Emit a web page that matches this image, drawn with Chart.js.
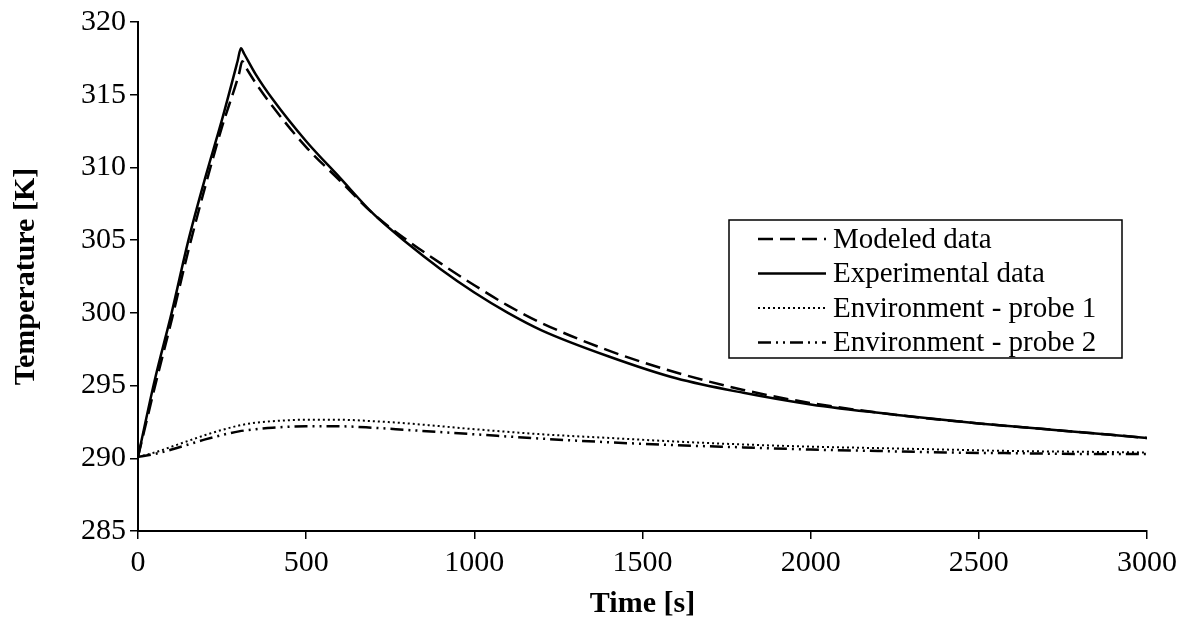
<!DOCTYPE html>
<html>
<head>
<meta charset="utf-8">
<script src="https://cdn.jsdelivr.net/npm/chart.js@4"></script>
<style>
  html, body { margin: 0; padding: 0; background: #fff; }
  #wrap { width: 1185px; height: 628px; position: relative; }
</style>
</head>
<body>
<div id="wrap"><canvas id="chart" width="1185" height="628"></canvas></div>
<script>
// time axis (s) for each series
const tExp = [0, 50, 100, 150, 200, 250, 296, 306, 316, 350, 400, 500, 600, 700, 800, 900, 1000, 1100, 1200, 1400, 1600, 1800, 2000, 2250, 2500, 2750, 3000];
const tMod = [0, 50, 100, 150, 200, 250, 300, 310, 320, 350, 400, 500, 600, 700, 800, 900, 1000, 1100, 1200, 1400, 1600, 1800, 2000, 2250, 2500, 2750, 3000];
const tEnv = [0, 50, 100, 150, 200, 250, 300, 350, 400, 500, 600, 700, 800, 1000, 1200, 1400, 1600, 1800, 2000, 2200, 2400, 2600, 2800, 3000];

// temperatures (K)
const modeled = [290.1, 294.9, 299.5, 304.3, 308.7, 312.8, 316.4, 317.3, 316.9, 315.8, 314.2, 311.4, 309.1, 306.8, 305.0, 303.4, 301.9, 300.5, 299.3, 297.4, 295.9, 294.7, 293.8, 293.0, 292.4, 291.9, 291.4];
const experimental = [290.1, 295.4, 300.0, 305.0, 309.3, 313.3, 317.3, 318.2, 317.8, 316.4, 314.7, 311.8, 309.3, 306.8, 304.8, 303.0, 301.4, 300.0, 298.8, 297.0, 295.5, 294.5, 293.7, 293.0, 292.4, 291.9, 291.4];
const probe1 = [290.1, 290.4, 290.8, 291.2, 291.6, 291.95, 292.25, 292.45, 292.55, 292.65, 292.65, 292.55, 292.4, 292.0, 291.65, 291.4, 291.15, 290.95, 290.8, 290.7, 290.6, 290.5, 290.45, 290.4];
const probe2 = [290.1, 290.3, 290.6, 290.95, 291.3, 291.6, 291.85, 292.0, 292.1, 292.2, 292.2, 292.1, 291.95, 291.65, 291.35, 291.1, 290.9, 290.75, 290.6, 290.5, 290.4, 290.35, 290.3, 290.3];

const xTicks = [0, 500, 1000, 1500, 2000, 2500, 3000];
const yTicks = [285, 290, 295, 300, 305, 310, 315, 320];

const FONT = 'Liberation Serif, "Times New Roman", serif';

function pts(xs, ys) {
    return xs.map((x, i) => ({ x: x, y: ys[i] }));
}

// legend drawn inside the plot area, with a box like the original
const boxLegend = {
    id: 'boxLegend',
    afterDraw(chart) {
        const ctx = chart.ctx;
        const left = 729, top = 220, right = 1122, bottom = 358;
        ctx.save();
        ctx.fillStyle = '#fff';
        ctx.fillRect(left, top, right - left, bottom - top);
        ctx.strokeStyle = '#000';
        ctx.lineWidth = 1.5;
        ctx.strokeRect(left, top, right - left, bottom - top);
        ctx.font = '29px ' + FONT;
        ctx.textBaseline = 'middle';
        ctx.fillStyle = '#000';
        chart.data.datasets.forEach((ds, i) => {
            const y = 239 + i * 34.5;
            ctx.beginPath();
            ctx.lineWidth = ds.borderWidth;
            ctx.setLineDash(ds.borderDash || []);
            ctx.moveTo(758, y);
            ctx.lineTo(826, y);
            ctx.stroke();
            ctx.setLineDash([]);
            ctx.fillText(ds.label, 833, y + 1);
        });
        ctx.restore();
    }
};

new Chart(document.getElementById('chart').getContext('2d'), {
    type: 'line',
    data: {
        datasets: [{
            label: 'Modeled data',
            data: pts(tMod, modeled),
            borderColor: '#000',
            borderWidth: 2.5,
            borderDash: [15, 7]
        }, {
            label: 'Experimental data',
            data: pts(tExp, experimental),
            borderColor: '#000',
            borderWidth: 2.5
        }, {
            label: 'Environment - probe 1',
            data: pts(tEnv, probe1),
            borderColor: '#000',
            borderWidth: 2,
            borderDash: [2, 3]
        }, {
            label: 'Environment - probe 2',
            data: pts(tEnv, probe2),
            borderColor: '#000',
            borderWidth: 2.5,
            borderDash: [13, 5, 2, 5, 2, 5]
        }]
    },
    options: {
        responsive: false,
        animation: false,
        elements: { point: { radius: 0 }, line: { cubicInterpolationMode: 'monotone' } },
        layout: { padding: { left: 8, top: 20, right: 38, bottom: 6 } },
        plugins: {
            legend: { display: false },
            tooltip: { enabled: false }
        },
        scales: {
            x: {
                type: 'linear',
                min: 0,
                max: 3000,
                afterBuildTicks: s => { s.ticks = xTicks.map(v => ({ value: v })); },
                afterFit: s => { s.height = 628 - 531 - 6; },
                grid: { drawOnChartArea: false, drawTicks: true, tickLength: 8, color: '#000', lineWidth: 1.5 },
                border: { color: '#000', width: 2 },
                ticks: { color: '#000', font: { family: FONT, size: 30 }, padding: 6, maxRotation: 0, callback: v => String(v) },
                title: { display: true, text: 'Time [s]', color: '#000', font: { family: FONT, size: 30, weight: 'bold' }, padding: { top: 0, bottom: 0 } }
            },
            y: {
                min: 285,
                max: 320,
                afterBuildTicks: s => { s.ticks = yTicks.map(v => ({ value: v })); },
                afterFit: s => { s.width = 138 - 8; },
                grid: { drawOnChartArea: false, drawTicks: true, tickLength: 8, color: '#000', lineWidth: 1.5 },
                border: { color: '#000', width: 2 },
                ticks: { color: '#000', font: { family: FONT, size: 30 }, padding: 4, callback: v => String(v) },
                title: { display: true, text: 'Temperature [K]', color: '#000', font: { family: FONT, size: 30, weight: 'bold' }, padding: { top: 0, bottom: 4 } }
            }
        }
    },
    plugins: [boxLegend]
});
</script>
</body>
</html>
